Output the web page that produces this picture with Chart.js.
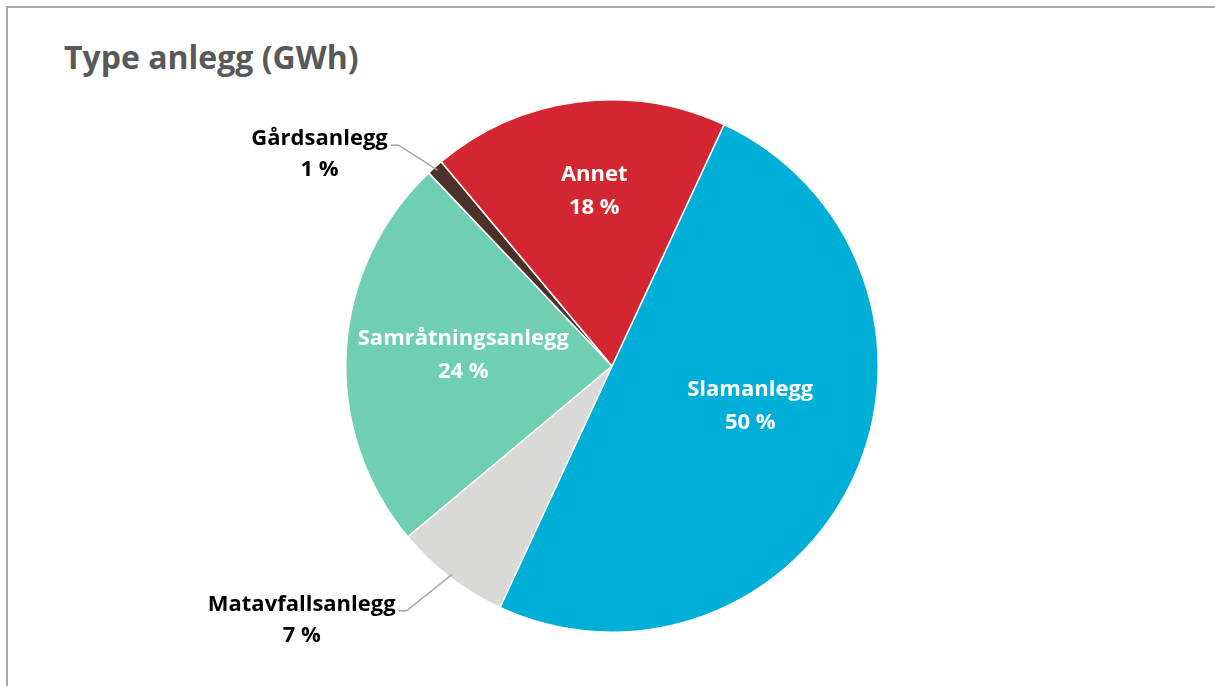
<!DOCTYPE html>
<html>
<head>
<meta charset="utf-8">
<script src="https://cdn.jsdelivr.net/npm/chart.js@4"></script>
<style>
  html, body { margin: 0; padding: 0; background: #fff; }
  #wrap { position: relative; width: 1215px; height: 686px; }
  #frame { position: absolute; left: 6px; top: 6px; right: 0; bottom: 0;
           border-top: 2px solid #aca7a7; border-left: 2px solid #aca7a7; }
  #title { position: absolute; left: 64px; top: 35px; margin: 0;
           font: bold 32px "Open Sans", sans-serif; color: #595959; }
  canvas { position: absolute; left: 0; top: 0; }
</style>
</head>
<body>
<div id="wrap">
  <div id="frame"></div>
  <h1 id="title">Type anlegg (GWh)</h1>
  <canvas id="pie" width="1215" height="686"></canvas>
</div>
<script>
// andeler lest av figuren (prosent)
const categories = ['Slamanlegg', 'Matavfallsanlegg', 'Samråtningsanlegg', 'Gårdsanlegg', 'Annet'];
const values = [50, 7, 24, 1, 18];
const colors = ['#00afd7', '#d9d9d6', '#6fcfb3', '#4b3128', '#d42630'];

// plassering av etiketter
const outside = [false, true, false, true, false];
const labelRadius = [0.54, 1.2, 0.56, 1.153, 0.66];
const labelShift = [-9, 2.5, 1, -2.3, 1.7];

const total = values.reduce((a, b) => a + b, 0);

const labelPlugin = {
  id: 'sliceLabels',
  afterDatasetsDraw(chart) {
    const ctx = chart.ctx;
    const arcs = chart.getDatasetMeta(0).data;
    ctx.save();
    ctx.font = 'bold 22px "Open Sans", sans-serif';
    ctx.textBaseline = 'middle';
    arcs.forEach((arc, i) => {
      const p = arc.getProps(['x', 'y', 'startAngle', 'endAngle', 'outerRadius']);
      const mid = (p.startAngle + p.endAngle) / 2 + labelShift[i] * Math.PI / 180;
      const r = p.outerRadius * labelRadius[i];
      const px = p.x + Math.cos(mid) * r;
      const py = p.y + Math.sin(mid) * r;
      const pct = Math.round(values[i] / total * 100) + ' %';
      if (!outside[i]) {
        ctx.fillStyle = '#ffffff';
        ctx.textAlign = 'center';
        ctx.fillText(categories[i], px, py - 16);
        ctx.fillText(pct, px, py + 17);
      } else {
        const m = (p.startAngle + p.endAngle) / 2;
        const ex = p.x + Math.cos(m) * (p.outerRadius - 4);
        const ey = p.y + Math.sin(m) * (p.outerRadius - 4);
        ctx.strokeStyle = '#a6a6a6';
        ctx.lineWidth = 1.5;
        ctx.beginPath();
        ctx.moveTo(ex, ey);
        ctx.lineTo(px, py);
        ctx.lineTo(px - 8, py);
        ctx.stroke();
        const w = Math.max(ctx.measureText(categories[i]).width, ctx.measureText(pct).width);
        const cx = px - 11 - w / 2;
        ctx.fillStyle = '#000000';
        ctx.textAlign = 'center';
        ctx.fillText(categories[i], cx, py - 6);
        ctx.fillText(pct, cx, py + 25);
      }
    });
    ctx.restore();
  }
};

new Chart(document.getElementById('pie'), {
  type: 'pie',
  data: {
    labels: categories,
    datasets: [{
      data: values,
      backgroundColor: colors,
      borderColor: '#ffffff',
      borderWidth: 1.5
    }]
  },
  options: {
    responsive: false,
    animation: false,
    rotation: 24.9,
    layout: { padding: { left: 345, right: 336, top: 99, bottom: 53 } },
    plugins: {
      legend: { display: false },
      tooltip: { enabled: false }
    }
  },
  plugins: [labelPlugin]
});
</script>
</body>
</html>
